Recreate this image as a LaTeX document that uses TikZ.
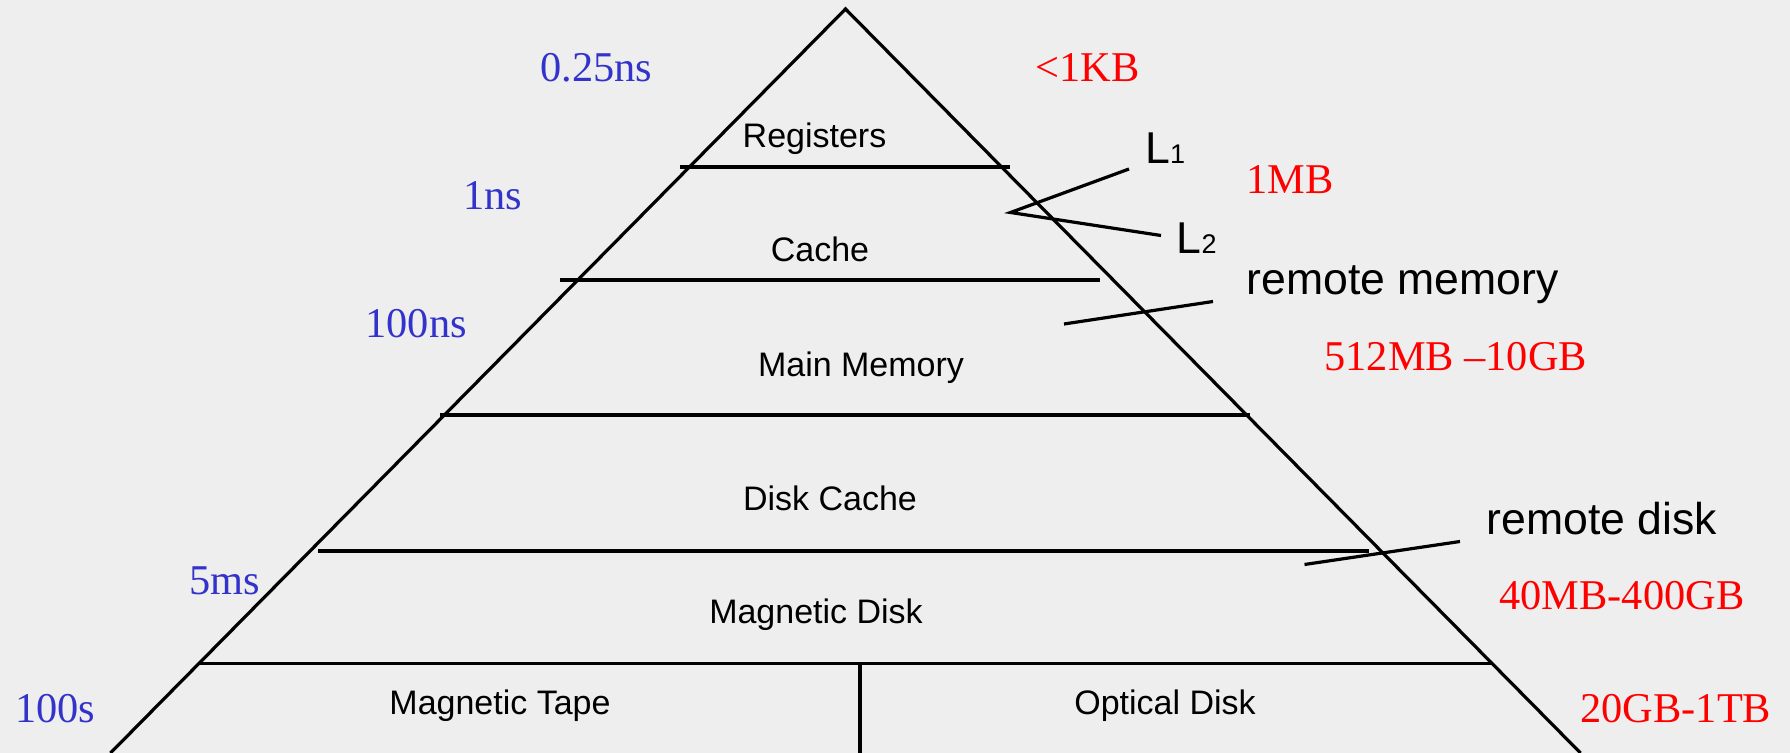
\documentclass[tikz,border=0pt]{standalone}
\usepackage{fontspec}
\setmainfont{Liberation Serif}
\setsansfont{Liberation Sans}
\definecolor{paper}{HTML}{EEEEEE}
\definecolor{latency}{HTML}{3333CC}
\definecolor{capacity}{HTML}{FF0000}

\begin{document}
\begin{tikzpicture}[x=0.5pt,y=-0.5pt,
  rule/.style={line width=1.6pt, black},
  level/.style={font=\sffamily\fontsize{17}{20}\selectfont, inner sep=0pt, anchor=base},
  remark/.style={font=\sffamily\fontsize{22.3}{26}\selectfont, inner sep=0pt, anchor=base west},
  timing/.style={font=\fontsize{21.2}{25}\selectfont, text=latency, inner sep=0pt, anchor=base west},
  amount/.style={font=\fontsize{21.2}{25}\selectfont, text=capacity, inner sep=0pt, anchor=base west}]

% canvas
\fill[paper] (0,0) rectangle (1790,753);
\useasboundingbox (0,0) rectangle (1790,753);

% pyramid outline
\coordinate (apex)  at (845.5,9);
\coordinate (baseL) at (110.5,753);
\coordinate (baseR) at (1580.5,753);
\draw[rule] (baseL) -- (apex) -- (baseR);

% level separators
\draw[rule] (680,167) -- (1010,167);
\draw[rule] (560,280) -- (1100,280);
\draw[rule] (440,415) -- (1250,415);
\draw[rule] (318,551) -- (1369,551);
\draw[rule] (198,663.5) -- (1493,663.5);
\draw[rule] (860,663.5) -- (860,753);

% level names
\node[level] (reg)  at (814.5,148) {Registers};
\node[level] (cache) at (820,261.5) {Cache};
\node[level] (mm)   at (861,376.5) {Main Memory};
\node[level] (dc)   at (830,511) {Disk Cache};
\node[level] (md)   at (816,623.5) {Magnetic Disk};
\node[level] (mt)   at (500,714) {Magnetic Tape};
\node[level] (od)   at (1165,714) {Optical Disk};

% cache levels
\node[remark] (l1) at (1145,163.5) {L\fontsize{13.5}{16}\selectfont 1};
\node[remark] (l2) at (1176.5,254) {L\fontsize{13.5}{16}\selectfont 2};
\coordinate (lfork) at (1010.5,212.5);
\coordinate (l1end) at (1129,169);
\coordinate (l2end) at (1161,235.5);
\draw[rule] (l1end) -- (lfork) -- (l2end);

% remote tiers
\node[remark] (rmem)  at (1246,295) {remote memory};
\coordinate (rmemA) at (1064,324);
\coordinate (rmemB) at (1213,301.5);
\draw[rule] (rmemA) -- (rmemB);

\node[remark] (rdisk) at (1486,535) {remote disk};
\coordinate (rdiskA) at (1304.5,564.5);
\coordinate (rdiskB) at (1460,541.5);
\draw[rule] (rdiskA) -- (rdiskB);

% access times
\node[timing] (t0) at (540,82) {0.25ns};
\node[timing] (t1) at (463,210) {1ns};
\node[timing] (t2) at (365,337.5) {100ns};
\node[timing] (t3) at (189,594.5) {5ms};
\node[timing] (t4) at (15,722.5) {100s};

% capacities
\node[amount] (c0) at (1035,82) {<1KB};
\node[amount] (c1) at (1246,194) {1MB};
\node[amount] (c2) at (1324,371) {512MB –10GB};
\node[amount] (c3) at (1499,610) {40MB-400GB};
\node[amount] (c4) at (1580,722) {20GB-1TB};
\end{tikzpicture}
\end{document}
